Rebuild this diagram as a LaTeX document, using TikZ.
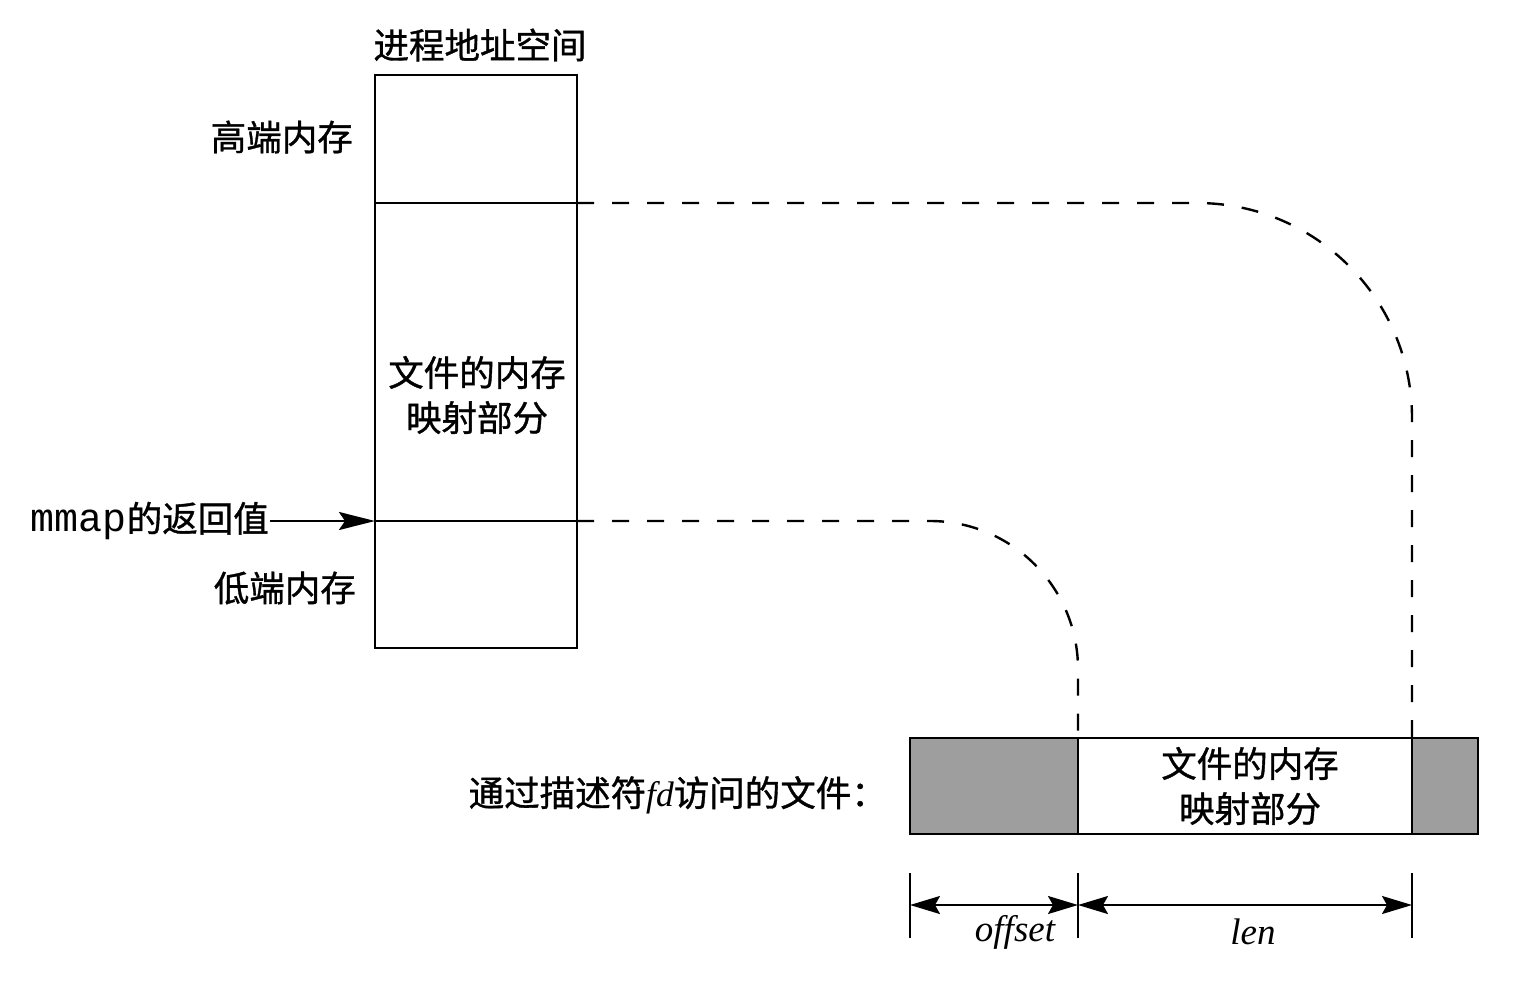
\documentclass[tikz,border=0pt]{standalone}
\usepackage{fontspec}
\setmainfont{Liberation Serif}
\setmonofont{Liberation Mono}
\newfontfamily\cjk[FakeBold=1]{Noto Sans CJK SC}
\usetikzlibrary{arrows.meta}
\newcommand\vname[1]{{\rmfamily\itshape #1}}

\begin{document}
\begin{tikzpicture}[x=1pt, y=-1pt, line width=2.4pt,
    every node/.style={inner sep=0pt, font=\cjk\fontsize{35.5}{45}\selectfont},
    mapline/.style={dash pattern=on 17pt off 18pt},
    shaded/.style={draw=black, fill=black!38},
    dimarrow/.style={{Stealth[length=30pt,width=18pt,inset=5pt]}-{Stealth[length=30pt,width=18pt,inset=5pt]}, line width=2pt},
    dimlabel/.style={font=\rmfamily\itshape\fontsize{37}{40}\selectfont}]
    \useasboundingbox (0,0) rectangle (1518,980);

    % 进程地址空间
    \draw (375,75) rectangle (577,648);
    \node (title) at (480,45) {进程地址空间};
    \coordinate (hiL) at (375,203);
    \coordinate (hiR) at (577,203);
    \coordinate (loL) at (375,521);
    \coordinate (loR) at (577,521);
    \draw (hiL) -- (hiR);
    \draw (loL) -- (loR);
    \node[anchor=east] (high) at (354,137) {高端内存};
    \node[align=center] (mapped) at (477,395) {文件的内存\\映射部分};
    \node[anchor=east] (low) at (357,588) {低端内存};

    % mmap 的返回值
    \node[anchor=east] (ret) at (270,521) {{\ttfamily\fontsize{40}{40}\selectfont mmap}的返回值};
    \draw[-{Stealth[length=36pt,width=18pt,inset=6pt]}] (ret.east) -- (loL);

    % 文件
    \coordinate (fileA) at (910,738);
    \coordinate (fileB) at (1078,738);
    \coordinate (fileC) at (1412,738);
    \draw[shaded] (fileA) rectangle (1078,834);
    \draw (fileB) rectangle (1412,834);
    \draw[shaded] (fileC) rectangle (1478,834);
    \node[align=center] (filemap) at (1250,786) {文件的内存\\映射部分};
    \node[anchor=east] (fdfile) at (888,795) {通过描述符\vname{fd}访问的文件：};

    % 映射关系（虚线）
    \draw[mapline, rounded corners=215pt] (hiR) -| (fileC);
    \draw[mapline, rounded corners=148pt] (loR) -| (fileB);

    % offset 与 len
    \draw (910,873) -- (910,938);
    \draw (1078,873) -- (1078,938);
    \draw (1412,873) -- (1412,938);
    \draw[dimarrow] (910,905) -- (1078,905);
    \draw[dimarrow] (1078,905) -- (1412,905);
    \node[dimlabel] (offset) at (1015,932) {offset};
    \node[dimlabel] (len) at (1253,932) {len};
\end{tikzpicture}
\end{document}
